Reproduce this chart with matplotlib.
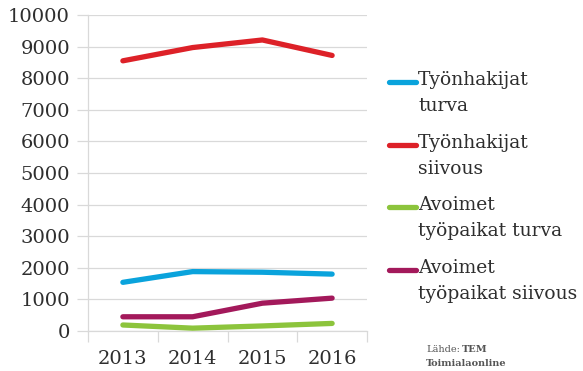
import matplotlib
matplotlib.use("Agg")
import matplotlib.pyplot as plt
from matplotlib.lines import Line2D
import numpy as np

years = ["2013", "2014", "2015", "2016"]
tyonhakijat_turva = [1540, 1880, 1860, 1800]
tyonhakijat_siivous = [8550, 8970, 9210, 8720]
avoimet_turva = [190, 90, 160, 240]
avoimet_siivous = [450, 450, 880, 1040]

series = [
    ("Työnhakijat\nturva", tyonhakijat_turva, "#0aa3dc"),
    ("Työnhakijat\nsiivous", tyonhakijat_siivous, "#dd2128"),
    ("Avoimet\ntyöpaikat turva", avoimet_turva, "#8cc43c"),
    ("Avoimet\ntyöpaikat siivous", avoimet_siivous, "#a3195b"),
]

plt.rcParams["font.family"] = ["DejaVu Serif"]

W, H = 583, 371
fig = plt.figure(figsize=(W / 100, H / 100), dpi=100)
ax = fig.add_axes([88 / W, 1 - 331 / H, (367 - 88) / W, (331 - 15) / H])

x = np.arange(len(years))
for label, vals, color in series:
    ax.plot(x, vals, color=color, lw=3.8, solid_capstyle="round",
            solid_joinstyle="round", zorder=3)

ax.set_xlim(-0.5, 3.5)
ax.set_ylim(0, 10000)
ax.set_yticks(np.arange(0, 10001, 1000))
ax.yaxis.grid(True, color="#d9d9d9", lw=0.9)
ax.set_axisbelow(True)

ax.set_xticks(x)
ax.set_xticklabels(years)
ax.set_xticks(np.arange(-0.5, 4, 1), minor=True)
ax.tick_params(axis="x", which="major", length=0, pad=14, labelsize=14, labelcolor="#2e2e2e")
ax.tick_params(axis="x", which="minor", length=8, color="#d9d9d9", width=0.9)
ax.tick_params(axis="y", length=8, color="#d9d9d9", width=0.9, labelsize=14,
               labelcolor="#2e2e2e", pad=5)

for s in ["top", "right"]:
    ax.spines[s].set_visible(False)
for s in ["left", "bottom"]:
    ax.spines[s].set_color("#d9d9d9")
    ax.spines[s].set_linewidth(0.9)

# Legend: swatch aligned with the first line of each two-line label
entry_y = [82, 145, 207, 270]
for (label, vals, color), yy in zip(series, entry_y):
    yf = 1 - yy / H
    fig.add_artist(Line2D([389 / W, 416 / W], [yf, yf], color=color, lw=3.8,
                          solid_capstyle="round", transform=fig.transFigure))
    fig.text(418 / W, 1 - (yy - 11) / H, label, fontsize=13.5, color="#2e2e2e",
             va="top", ha="left", linespacing=1.6)

fig.text(426 / W, 1 - 349 / H, "Lähde:", fontsize=7, color="#555555", va="center")
fig.text(462 / W, 1 - 349 / H, "TEM", fontsize=7, color="#555555", va="center", weight="bold")
fig.text(426 / W, 1 - 364 / H, "Toimialaonline", fontsize=7, color="#555555",
         va="center", weight="bold")

fig.savefig("out.png", dpi=100)
